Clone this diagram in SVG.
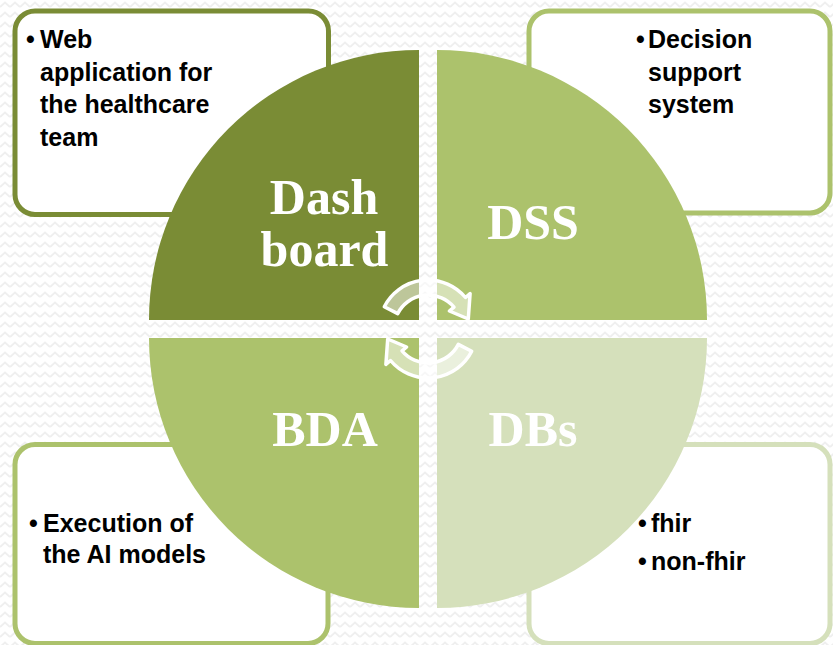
<svg xmlns="http://www.w3.org/2000/svg" width="833" height="645" viewBox="0 0 833 645">
  <defs>
    <pattern id="zig" width="10" height="10" patternUnits="userSpaceOnUse">
      <polyline points="0,7 5,2.5 10,7" fill="none" stroke="#efefef" stroke-width="2"/>
    </pattern>
    <style>
      .box { fill: #ffffff; stroke-width: 5; }
      .b1 { stroke: #7a8c35; }
      .b2 { stroke: #acc26c; }
      .b3 { stroke: #d5e0bb; }
      .txt { font-family: "Liberation Sans", Arial, sans-serif; font-weight: bold; font-size: 25px; fill: #000000; }
      .big { font-family: "Liberation Serif", "Times New Roman", serif; font-weight: bold; font-size: 50px; fill: #ffffff; text-anchor: middle; }
      .arrow { fill: #ffffff; fill-opacity: 0.5; stroke: #ffffff; stroke-width: 3.5; stroke-linejoin: round; }
    </style>
  </defs>
  <rect x="0" y="0" width="833" height="645" fill="#ffffff"/>
  <rect x="0" y="0" width="833" height="645" fill="url(#zig)"/>

  <g id="node-dashboard">
    <rect class="box b1" x="15" y="11" width="313.5" height="203.5" rx="20"/>
    <path d="M419,320 L149,320 A270,270 0 0 1 419,50 Z" fill="#7a8c35"/>
    <text class="txt" x="26" y="48">•</text>
    <text class="txt" x="40" y="48">Web</text>
    <text class="txt" x="40" y="81">application for</text>
    <text class="txt" x="40" y="113">the healthcare</text>
    <text class="txt" x="40" y="146">team</text>
    <text class="big" x="324" y="214">Dash</text>
    <text class="big" x="324.5" y="266">board</text>
  </g>

  <g id="node-dss">
    <rect class="box b2" x="529" y="11" width="301" height="202" rx="20"/>
    <path d="M437,320 L437,50 A270,270 0 0 1 707,320 Z" fill="#acc26c"/>
    <text class="txt" x="636" y="48">•</text>
    <text class="txt" x="648" y="48">Decision</text>
    <text class="txt" x="648" y="81">support</text>
    <text class="txt" x="648" y="113">system</text>
    <text class="big" x="533" y="239">DSS</text>
  </g>

  <g id="node-bda">
    <rect class="box b2" x="15" y="444.5" width="313" height="199" rx="20"/>
    <path d="M419,338 L419,608 A270,270 0 0 1 149,338 Z" fill="#acc26c"/>
    <text class="txt" x="29" y="532">•</text>
    <text class="txt" x="43" y="532">Execution of</text>
    <text class="txt" x="43" y="563">the AI models</text>
    <text class="big" x="325" y="446">BDA</text>
  </g>

  <g id="node-dbs">
    <rect class="box b3" x="529" y="444.5" width="301" height="199" rx="20"/>
    <path d="M437,338 L707,338 A270,270 0 0 1 437,608 Z" fill="#d5e0bb"/>
    <text class="txt" x="638" y="532">•</text>
    <text class="txt" x="651" y="532">fhir</text>
    <text class="txt" x="638" y="570">•</text>
    <text class="txt" x="651" y="570">non-fhir</text>
    <text class="big" x="533" y="446">DBs</text>
  </g>

  <g id="connectors">
    <path class="arrow" d="M384.3,306.7 A49,49 0 0 1 465.5,297.5 L470.1,293.6 L468.3,319 L449.4,311 L454,307.1 A34,34 0 0 0 397.7,313.6 Z"/>
    <path class="arrow" transform="rotate(180 428 329)" d="M384.3,306.7 A49,49 0 0 1 465.5,297.5 L470.1,293.6 L468.3,319 L449.4,311 L454,307.1 A34,34 0 0 0 397.7,313.6 Z"/>
  </g>
</svg>
